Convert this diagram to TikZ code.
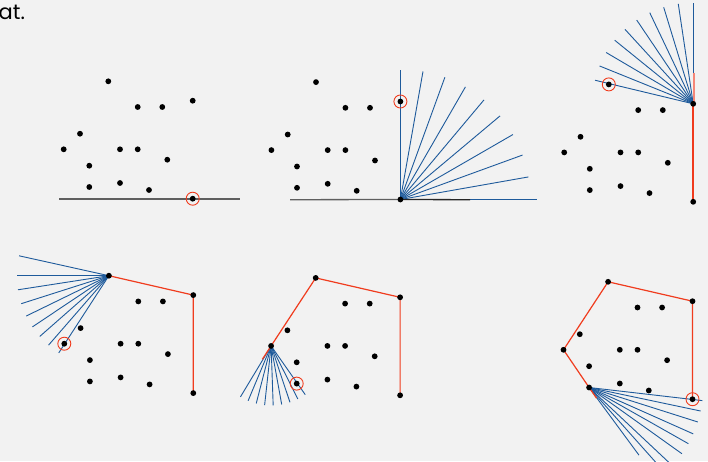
\documentclass[tikz,border=0pt]{standalone}
\usepackage{fontspec}
\setmainfont{Poppins}
\definecolor{raycol}{RGB}{30,90,155}
\definecolor{hullcol}{RGB}{240,60,30}
\definecolor{extcol}{RGB}{245,135,120}
\definecolor{basecol}{RGB}{95,95,95}
\definecolor{bgcol}{RGB}{242,242,242}
\newcommand\hullpts{A/108.3/81.3,B/137.7/107,C/162.3/107,D/192.7/100.7,E/80/133.7,F/63.7/149.3,G/120/149.3,H/137.7/149.3,I/167.3/159.7,J/89.3/165.7,K/89.3/187,L/120/183,M/149/190,N/192.7/198.7}
\begin{document}
\begin{tikzpicture}[x=1pt,y=-1pt,
  dot/.style={circle,fill=black,inner sep=0pt,minimum size=5.8pt},
  ringmark/.style={circle,draw=hullcol,line width=0.9pt,inner sep=0pt,minimum size=13pt},
  ray/.style={draw=raycol,line width=0.9pt},
  hulledge/.style={draw=hullcol,line width=1.2pt},
  hullext/.style={draw=extcol,line width=1.5pt},
  sweepline/.style={draw=basecol,line width=1.3pt}]
\fill[bgcol] (0,0) rectangle (708,461);
\useasboundingbox (0,0) rectangle (708,461);
\clip (0,0) rectangle (708,461);
% point sets of the six panels
\foreach \p/\sx/\sy in {1/0/0,2/207.7/0.8,3/500.5/3.1,4/0.6/194.4,5/207.4/196.6,6/499.8/200.5}{
  \foreach \n/\x/\y in \hullpts {
    \coordinate (q\p\n) at (\x+\sx,\y+\sy);
  }
}
\node[anchor=base west,font=\fontsize{21}{24}\selectfont,inner sep=0pt] (cap) at (-1.5,19.5) {at.};
% panel 1
\coordinate (b1l) at (59,199);
\coordinate (b1r) at (240,199);
\draw[sweepline] (b1l) -- (b1r);
% panel 2
\draw[ray] (q2N) -- ++(0:137);
\foreach \k in {1,...,9} \draw[ray] (q2N) -- ++({-10*\k}:130);
\coordinate (b2l) at (290,199.7);
\coordinate (b2r) at (470,199.7);
\draw[sweepline] (b2l) -- (q2N);
\draw[sweepline,draw=black!85] (q2N) -- (b2r);
% panel 3
\foreach \k in {0,...,9} \draw[ray] (q3D) -- ++({-(90+8.5*\k)}:101);
\coordinate (e3) at (694.2,73);
\coordinate (f3) at (694.2,104);
\draw[hullext] (f3) -- (e3);
\draw[hulledge,line width=1.6pt] (q3N) -- (q3D);
% panel 4
\foreach \a in {167.5,180,188.8,197.7,206,213.8,221.3,229,237} \draw[ray] (q4A) -- ++({-\a}:92);
\draw[hulledge] (q4N) -- (q4D) -- (q4A);
% panel 5
\foreach \k in {0,...,8} \draw[ray] (q5F) -- ++({-(239+8.25*\k)}:59.5);
\draw[hulledge] (q5N) -- (q5D) -- (q5A) -- (q5F) -- ++(-236.8:16);
% panel 6
\foreach \a/\r in {6.6/114,11.9/114,17.6/114,24/114,29.5/114,35.5/114,43.2/114,48.3/114,53.6/84} \draw[ray] (q6K) -- ++(\a:\r);
\draw[hulledge] (q6N) -- (q6D) -- (q6A) -- (q6F) -- (q6K) -- ++(55.1:13);
% dots
\foreach \p in {1,...,6}{
  \foreach \n/\x/\y in \hullpts {
    \node[dot] (d\p\n) at (q\p\n) {};
  }
}
% marked points
\node[ringmark] (r1) at (q1N) {};
\node[ringmark] (r2) at (q2D) {};
\node[ringmark] (r3) at (q3A) {};
\node[ringmark] (r4) at (q4F) {};
\node[ringmark] (r5) at (q5K) {};
\node[ringmark] (r6) at (q6N) {};
\end{tikzpicture}
\end{document}
